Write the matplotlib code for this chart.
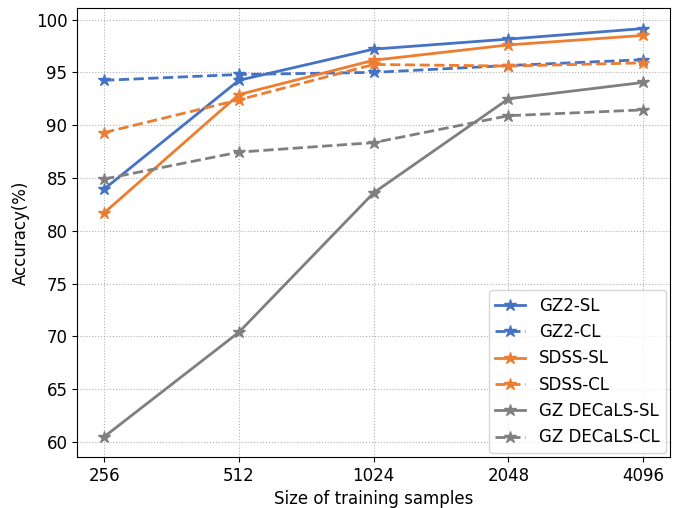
import matplotlib
matplotlib.use('Agg')
import matplotlib.pyplot as plt

sizes = ['256', '512', '1024', '2048', '4096']

gz2_sl = [83.95, 94.25, 97.2, 98.15, 99.15]
gz2_cl = [94.25, 94.8, 95.0, 95.65, 96.2]
sdss_sl = [81.7, 92.9, 96.15, 97.6, 98.5]
sdss_cl = [89.3, 92.4, 95.75, 95.6, 95.9]
decals_sl = [60.5, 70.4, 83.6, 92.5, 94.05]
decals_cl = [84.9, 87.45, 88.35, 90.9, 91.45]

blue = '#4472C4'
orange = '#ED7D31'
gray = '#7F7F7F'


def main():
	fig, ax = plt.subplots(figsize=(6.77, 5.08), dpi=100)
	x = range(len(sizes))

	ax.plot(x, gz2_sl, '-', marker='*', color=blue, lw=2, ms=9, label='GZ2-SL')
	ax.plot(x, gz2_cl, '--', marker='*', color=blue, lw=2, ms=9, label='GZ2-CL')
	ax.plot(x, sdss_sl, '-', marker='*', color=orange, lw=2, ms=9, label='SDSS-SL')
	ax.plot(x, sdss_cl, '--', marker='*', color=orange, lw=2, ms=9, label='SDSS-CL')
	ax.plot(x, decals_sl, '-', marker='*', color=gray, lw=2, ms=9, label='GZ DECaLS-SL')
	ax.plot(x, decals_cl, '--', marker='*', color=gray, lw=2, ms=9, label='GZ DECaLS-CL')

	ax.set_xticks(list(x))
	ax.set_xticklabels(sizes)
	ax.tick_params(labelsize=12)
	ax.set_xlabel('Size of training samples', fontsize=12)
	ax.set_ylabel('Accuracy(%)', fontsize=12)
	ax.grid(True, linestyle=':', color='#b0b0b0')
	ax.legend(loc='lower right', fontsize=12, borderaxespad=0.25, handlelength=1.8)

	fig.subplots_adjust(left=0.114, right=0.99, top=0.984, bottom=0.1)
	fig.savefig('out.png')


if __name__ == '__main__':
	main()
